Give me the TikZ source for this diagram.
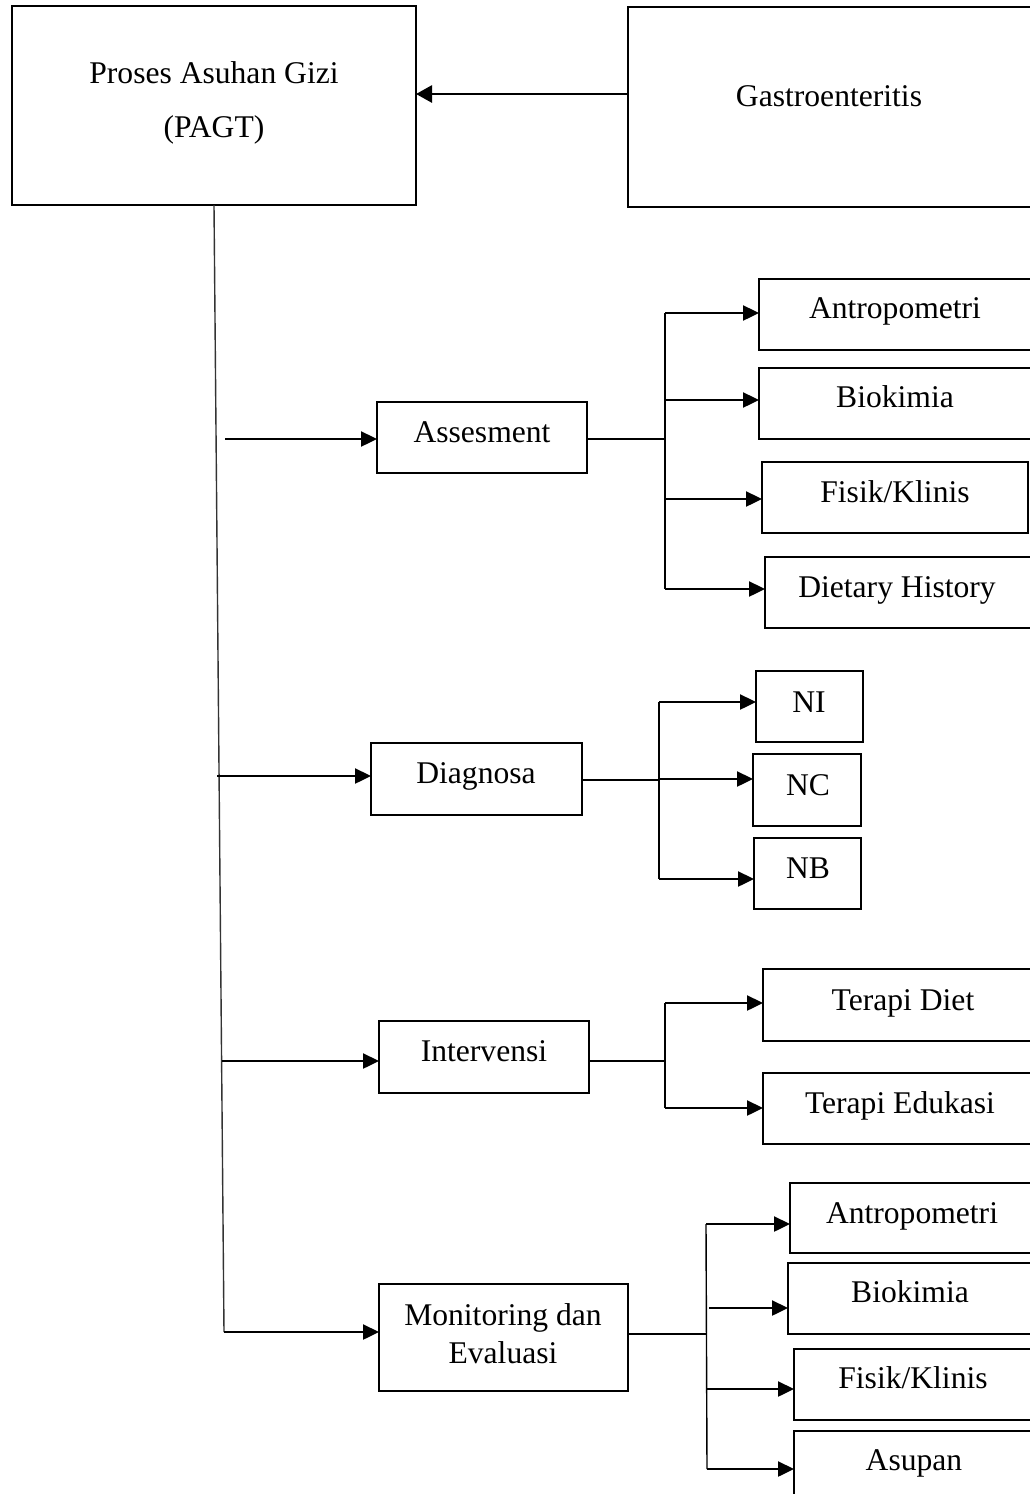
\documentclass[tikz,border=0pt]{standalone}
\usepackage{fontspec}
\setmainfont{Liberation Serif}
\usetikzlibrary{arrows.meta,fit}
\tikzset{
  box/.style={draw, line width=2.8pt, inner sep=0pt, outer sep=0pt},
  lbl/.style={anchor=base, inner sep=0pt, font=\fontsize{31.6}{38}\selectfont},
  arr/.style={line width=2.4pt, -{Triangle[length=16pt,width=15pt]}},
  conn/.style={line width=1.4pt},
  mainline/.style={line width=1.4pt, black!80},
}
\begin{document}
\begin{tikzpicture}[x=1pt,y=-1pt]
\clip (0,0) rectangle (1030,1494);
\fill[white] (0,0) rectangle (1030,1494);

% boxes
\node[box, fit={(12,6) (416,205)}] (pagt) {};
\node[box, fit={(628,7) (1034,207)}] (gastro) {};
\node[box, fit={(377,402) (587,473)}] (assess) {};
\node[box, fit={(759,279) (1034,350)}] (antA) {};
\node[box, fit={(759,368) (1034,439)}] (bioA) {};
\node[box, fit={(762,462) (1028,533)}] (fisA) {};
\node[box, fit={(765,557) (1034,628)}] (dietA) {};
\node[box, fit={(371,743) (582,815)}] (diag) {};
\node[box, fit={(756,671) (863,742)}] (ni) {};
\node[box, fit={(753,754) (861,826)}] (nc) {};
\node[box, fit={(754,838) (861,909)}] (nb) {};
\node[box, fit={(379,1021) (589,1093)}] (interv) {};
\node[box, fit={(763,969) (1045,1041)}] (tdiet) {};
\node[box, fit={(763,1073) (1040,1144)}] (tedu) {};
\node[box, fit={(379,1284) (628,1391)}] (monev) {};
\node[box, fit={(790,1183) (1036,1253)}] (antB) {};
\node[box, fit={(788,1263) (1036,1334)}] (bioB) {};
\node[box, fit={(794,1349) (1034,1420)}] (fisB) {};
\node[box, fit={(794,1431) (1036,1520)}] (asup) {};

% labels
\node[lbl] (lpagt1) at (214,83) {Proses Asuhan Gizi};
\node[lbl] (lpagt2) at (214,137) {(PAGT)};
\node[lbl] (lgastro) at (829,106) {Gastroenteritis};
\node[lbl] (lassess) at (482,442) {Assesment};
\node[lbl] (lantA) at (895,318) {Antropometri};
\node[lbl] (lbioA) at (895,407) {Biokimia};
\node[lbl] (lfisA) at (895,502) {Fisik/Klinis};
\node[lbl] (ldietA) at (897,597) {Dietary History};
\node[lbl] (ldiag) at (476,783) {Diagnosa};
\node[lbl] (lni) at (809,712) {NI};
\node[lbl] (lnc) at (808,795) {NC};
\node[lbl] (lnb) at (808,878) {NB};
\node[lbl] (linterv) at (484,1061) {Intervensi};
\node[lbl] (ltdiet) at (903,1010) {Terapi Diet};
\node[lbl] (ltedu) at (900,1113) {Terapi Edukasi};
\node[lbl] (lmonev1) at (503,1325) {Monitoring dan};
\node[lbl] (lmonev2) at (503,1363) {Evaluasi};
\node[lbl] (lantB) at (912,1223) {Antropometri};
\node[lbl] (lbioB) at (910,1302) {Biokimia};
\node[lbl] (lfisB) at (913,1388) {Fisik/Klinis};
\node[lbl] (lasup) at (914,1470) {Asupan};

% top arrow
\coordinate (yG) at (0,94);
\draw[arr, line width=2.8pt, -{Triangle[length=16pt,width=17pt]}] (gastro.west |- yG) -- (pagt.east |- yG);

% main vertical line
\coordinate (mEnd) at (224,1332);
\draw[mainline] (pagt.south) -- (mEnd);

% main arrows
\coordinate (sA) at (225,439);
\coordinate (sD) at (217,776);
\coordinate (sI) at (222,1061);
\draw[arr] (sA) -- (assess.west |- sA);
\draw[arr] (sD) -- (diag.west |- sD);
\draw[arr] (sI) -- (interv.west |- sI);
\draw[arr] (mEnd) -- (monev.west |- mEnd);

% Assesment branch
\coordinate (hA) at (665,439);
\coordinate (a1) at (665,313);
\coordinate (a2) at (665,400);
\coordinate (a3) at (665,499);
\coordinate (a4) at (665,589);
\draw[conn] (assess.east |- hA) -- (hA);
\draw[conn] (a1) -- (a4);
\draw[arr] (a1) -- (antA.west |- a1);
\draw[arr] (a2) -- (bioA.west |- a2);
\draw[arr] (a3) -- (fisA.west |- a3);
\draw[arr] (a4) -- (dietA.west |- a4);

% Diagnosa branch
\coordinate (hD) at (659,780);
\coordinate (d1) at (659,702);
\coordinate (d2) at (659,779);
\coordinate (d3) at (659,879);
\draw[conn] (diag.east |- hD) -- (hD);
\draw[conn] (d1) -- (d3);
\draw[arr] (d1) -- (ni.west |- d1);
\draw[arr] (d2) -- (nc.west |- d2);
\draw[arr] (d3) -- (nb.west |- d3);

% Intervensi branch
\coordinate (hI) at (665,1061);
\coordinate (i1) at (665,1003);
\coordinate (i2) at (665,1108);
\draw[conn] (interv.east |- hI) -- (hI);
\draw[conn] (i1) -- (i2);
\draw[arr] (i1) -- (tdiet.west |- i1);
\draw[arr] (i2) -- (tedu.west |- i2);

% Monitoring branch
\coordinate (hM) at (706,1334);
\coordinate (m1) at (706,1224);
\coordinate (m2) at (709,1308);
\coordinate (m3) at (707,1389);
\coordinate (m4) at (707,1469);
\draw[conn] (monev.east |- hM) -- (hM);
\draw[conn] (m1) -- (m4);
\draw[arr] (m1) -- (antB.west |- m1);
\draw[arr] (m2) -- (bioB.west |- m2);
\draw[arr] (m3) -- (fisB.west |- m3);
\draw[arr] (m4) -- (asup.west |- m4);
\end{tikzpicture}
\end{document}
